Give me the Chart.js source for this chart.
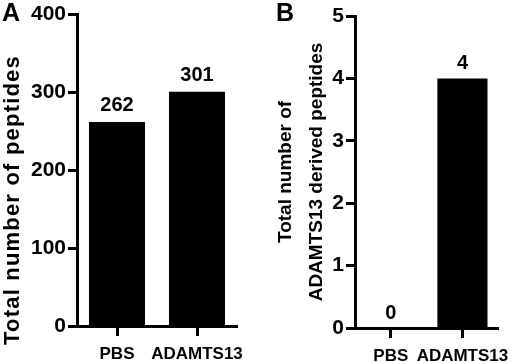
<!DOCTYPE html>
<html><head><meta charset="utf-8">
<script src="https://cdn.jsdelivr.net/npm/chart.js@4.4.0/dist/chart.umd.min.js"></script>
<style>
html,body{margin:0;padding:0;background:#fff;}
#wrap{position:relative;width:520px;height:362px;overflow:hidden;background:#fff;}
.pane{position:absolute;top:0;height:362px;width:260px;}
</style></head><body>
<div id="wrap">
<div class="pane" style="left:0"><canvas id="cA"></canvas></div>
<div class="pane" style="left:260px"><canvas id="cB"></canvas></div>
</div>
<script>
// ---- data ----
const categories = ['PBS', 'ADAMTS13'];
const totalPeptides = [262, 301];
const adamts13Peptides = [0, 4];
const ticksA = [0, 100, 200, 300, 400];
const ticksB = [0, 1, 2, 3, 4, 5];
const titleA = 'Total number of peptides';
const titleB = ['Total number of', 'ADAMTS13 derived peptides'];
const panelA = 'A';
const panelB = 'B';

const FONT = '"Liberation Sans", Arial, sans-serif';
Chart.defaults.font.family = FONT;
Chart.defaults.color = '#000';

const valueLabels = {
  id: 'valueLabels',
  afterDatasetsDraw(chart, args, opts) {
    const ctx = chart.ctx;
    const meta = chart.getDatasetMeta(0);
    ctx.save();
    ctx.font = 'bold 20px ' + FONT;
    ctx.fillStyle = '#000';
    ctx.textAlign = 'center';
    ctx.textBaseline = 'alphabetic';
    meta.data.forEach((bar, i) => {
      const v = chart.data.datasets[0].data[i];
      ctx.fillText(String(v), bar.x, bar.y - opts.gap);
    });
    ctx.restore();
  }
};
const panelLetter = {
  id: 'panelLetter',
  afterDraw(chart, args, opts) {
    const ctx = chart.ctx;
    ctx.save();
    ctx.font = 'bold 25px ' + FONT;
    ctx.fillStyle = '#000';
    ctx.textAlign = 'left';
    ctx.textBaseline = 'alphabetic';
    ctx.fillText(opts.text, opts.x, opts.y);
    ctx.restore();
  }
};
// side title drawn rotated (used where the reference title is not centred on the plot)
const sideTitle = {
  id: 'sideTitle',
  afterDraw(chart, args, opts) {
    if (!opts.text) return;
    const ctx = chart.ctx;
    ctx.save();
    ctx.font = 'bold ' + opts.size + 'px ' + FONT;
    if ('letterSpacing' in ctx) ctx.letterSpacing = opts.spacing + 'px';
    ctx.fillStyle = '#000';
    ctx.textAlign = 'center';
    ctx.textBaseline = 'middle';
    ctx.translate(opts.x, opts.cy);
    ctx.rotate(-Math.PI / 2);
    ctx.fillText(opts.text, 0, 0);
    ctx.restore();
  }
};

function makeChart(id, data, ticks, title, cfg) {
  return new Chart(document.getElementById(id), {
    type: 'bar',
    data: {
      labels: categories,
      datasets: [{
        data: data,
        backgroundColor: '#000',
        borderWidth: 0,
        barPercentage: 0.7,
        categoryPercentage: 1.0
      }]
    },
    plugins: [valueLabels, panelLetter, sideTitle],
    options: {
      responsive: true,
      maintainAspectRatio: false,
      animation: false,
      layout: { autoPadding: false, padding: { top: cfg.top, right: cfg.right, bottom: 0, left: 0 } },
      plugins: {
        legend: { display: false },
        tooltip: { enabled: false },
        valueLabels: { gap: cfg.gap },
        panelLetter: { text: cfg.letter, x: cfg.lx, y: cfg.ly },
        sideTitle: cfg.side ? { text: title, x: cfg.side.x, cy: cfg.side.cy, size: cfg.side.size, spacing: cfg.side.spacing } : {}
      },
      scales: {
        x: {
          offset: true,
          grid: { offset: false, drawOnChartArea: false, drawTicks: true, tickLength: 10, tickWidth: 3, tickColor: '#000' },
          border: { display: true, width: 3, color: '#000' },
          ticks: { font: { size: 17, weight: 'bold' }, color: '#000', padding: 8, maxRotation: 0, autoSkip: false },
          afterFit(s) { s.height = cfg.xh; }
        },
        y: {
          min: ticks[0],
          max: ticks[ticks.length - 1],
          grid: { drawOnChartArea: false, drawTicks: true, tickLength: 9, tickWidth: 3, tickColor: '#000' },
          border: { display: true, width: 3, color: '#000' },
          ticks: { stepSize: ticks[1] - ticks[0], font: { size: 21, weight: 'bold' }, color: '#000', padding: 2 },
          title: { display: !cfg.side, text: title, font: { size: 19, weight: 'bold', lineHeight: cfg.tlh }, color: '#000', padding: { top: cfg.tpad, bottom: 0 } },
          afterFit(s) { s.width = cfg.yw; }
        }
      }
    }
  });
}

makeChart('cA', totalPeptides, ticksA, titleA,
  { top: 8, right: 23, xh: 36, yw: 77, gap: 11, letter: panelA, lx: 2, ly: 21, tlh: 1.2, tpad: 2,
    side: { x: 13, cy: 200, size: 22, spacing: 1.2 } });
makeChart('cB', adamts13Peptides, ticksB, titleB,
  { top: 16, right: 15, xh: 34, yw: 95, gap: 9, letter: panelB, lx: 16, ly: 21, tlh: 1.6, tpad: 11 });
</script>
</body></html>
